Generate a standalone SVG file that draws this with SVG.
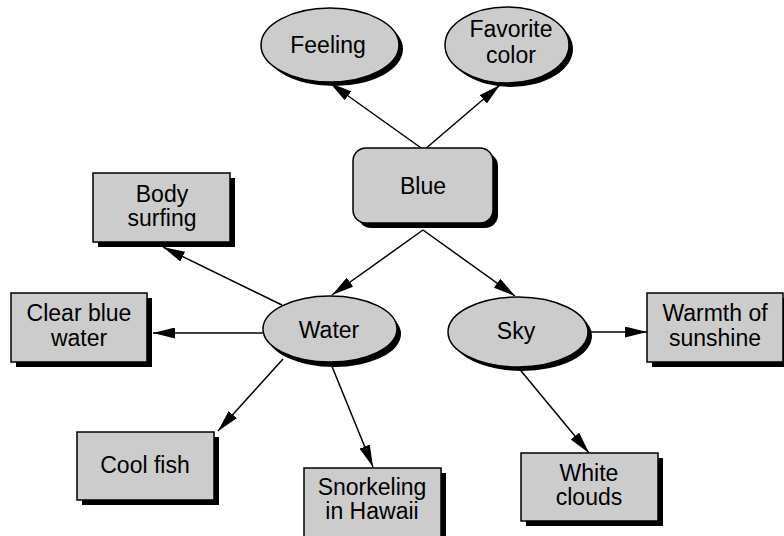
<svg xmlns="http://www.w3.org/2000/svg" width="784" height="536" viewBox="0 0 784 536">
  <defs>
    <marker id="arrow" markerUnits="userSpaceOnUse" markerWidth="22" markerHeight="11" refX="22" refY="5.5" orient="auto">
      <path d="M0,0 L22,5.5 L0,11 z" fill="#000"/>
    </marker>
  </defs>
  <style>
    .shadow { fill: #000; stroke: none; }
    .shape { fill: #cccccc; stroke: #000; stroke-width: 1.5; }
    .label { font-family: "Liberation Sans", Arial, Helvetica, sans-serif; font-size: 23px; fill: #000; text-anchor: middle; }
    .conn line { stroke: #000; stroke-width: 1.5; marker-end: url(#arrow); }
  </style>
  <rect width="784" height="536" fill="#fff"/>

  <!-- connectors -->
  <g id="connectors" class="conn">
    <line x1="424" y1="150" x2="330" y2="83"/>
    <line x1="424" y1="150" x2="500" y2="85"/>
    <line x1="423" y1="230" x2="332" y2="295"/>
    <line x1="423" y1="230" x2="515" y2="296"/>
    <line x1="282" y1="305" x2="163" y2="247"/>
    <line x1="264" y1="333" x2="153" y2="333"/>
    <line x1="283" y1="359" x2="218" y2="431"/>
    <line x1="331" y1="364" x2="373" y2="467"/>
    <line x1="588" y1="332" x2="647" y2="332"/>
    <line x1="517" y1="366" x2="589" y2="453"/>
  </g>

  <!-- central topic -->
  <g id="blue">
    <rect class="shadow" x="358" y="153" width="140" height="75" rx="13"/>
    <rect class="shape" x="353" y="148" width="140" height="75" rx="13"/>
    <text class="label" x="423" y="194">Blue</text>
  </g>

  <g id="feeling">
    <ellipse class="shadow" cx="334" cy="49" rx="69" ry="37"/>
    <ellipse class="shape" cx="330" cy="45" rx="69" ry="37"/>
    <text class="label" x="328" y="53">Feeling</text>
  </g>

  <g id="favorite-color">
    <ellipse class="shadow" cx="511" cy="49" rx="62" ry="38"/>
    <ellipse class="shape" cx="507" cy="45" rx="62" ry="38"/>
    <text class="label" x="511" y="37">Favorite</text>
    <text class="label" x="511" y="63">color</text>
  </g>

  <g id="water">
    <ellipse class="shadow" cx="334" cy="334" rx="67" ry="33"/>
    <ellipse class="shape" cx="330" cy="329" rx="67" ry="33"/>
    <text class="label" x="329" y="338">Water</text>
  </g>

  <g id="sky">
    <ellipse class="shadow" cx="522" cy="336" rx="70" ry="35"/>
    <ellipse class="shape" cx="518" cy="332" rx="70" ry="35"/>
    <text class="label" x="516" y="339">Sky</text>
  </g>

  <g id="body-surfing">
    <rect class="shadow" x="98" y="178" width="137" height="69"/>
    <rect class="shape" x="93" y="173" width="137" height="69"/>
    <text class="label" x="162" y="202">Body</text>
    <text class="label" x="162" y="226">surfing</text>
  </g>

  <g id="clear-blue-water">
    <rect class="shadow" x="16" y="298" width="136" height="69"/>
    <rect class="shape" x="11" y="293" width="136" height="69"/>
    <text class="label" x="79" y="321">Clear blue</text>
    <text class="label" x="79" y="346">water</text>
  </g>

  <g id="cool-fish">
    <rect class="shadow" x="82" y="437" width="137" height="68"/>
    <rect class="shape" x="77" y="432" width="137" height="68"/>
    <text class="label" x="145" y="473">Cool fish</text>
  </g>

  <g id="snorkeling">
    <rect class="shadow" x="309" y="473" width="137" height="70"/>
    <rect class="shape" x="304" y="468" width="137" height="70"/>
    <text class="label" x="372" y="495">Snorkeling</text>
    <text class="label" x="372" y="519">in Hawaii</text>
  </g>

  <g id="warmth-of-sunshine">
    <rect class="shadow" x="652" y="298" width="136" height="69"/>
    <rect class="shape" x="647" y="293" width="136" height="69"/>
    <text class="label" x="715" y="321">Warmth of</text>
    <text class="label" x="715" y="346">sunshine</text>
  </g>

  <g id="white-clouds">
    <rect class="shadow" x="526" y="458" width="137" height="68"/>
    <rect class="shape" x="521" y="453" width="137" height="68"/>
    <text class="label" x="589" y="481">White</text>
    <text class="label" x="589" y="505">clouds</text>
  </g>
</svg>
